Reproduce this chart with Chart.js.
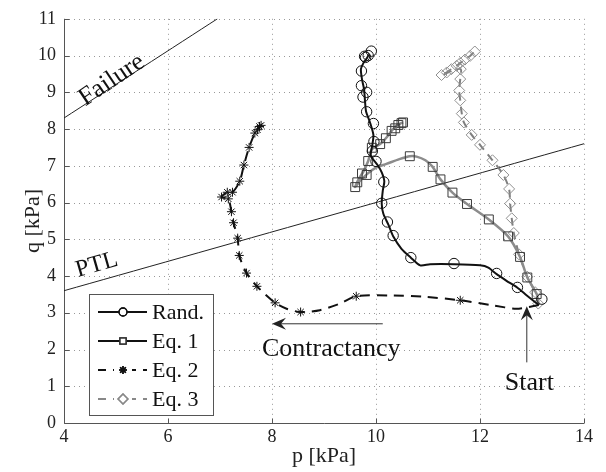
<!DOCTYPE html>
<html>
<head>
<meta charset="utf-8">
<script src="https://cdn.jsdelivr.net/npm/chart.js@4/dist/chart.umd.min.js"></script>
<style>
  html, body { margin: 0; padding: 0; background: #fff; }
  #wrap { width: 606px; height: 472px; }
</style>
</head>
<body>
<div id="wrap"><canvas id="pq"></canvas></div>
<script>
// axis ticks
const xTicks = [4, 6, 8, 10, 12, 14];
const yTicks = [0, 1, 2, 3, 4, 5, 6, 7, 8, 9, 10, 11];

// reference lines [p, q]
const failureLine = [[4, 8.3], [6.95, 11]];
const ptlLine = [[4, 3.6], [14, 7.6]];

// Rand. (solid black, circles)
const randPath = [[13.13,3.21],[12.90,3.47],[12.72,3.68],[12.51,3.87],[12.32,4.05],[12.16,4.23],[12.0,4.29],
  [11.5,4.32],[11.04,4.32],[10.85,4.29],[10.67,4.50],[10.49,4.74],[10.33,5.08],[10.24,5.39],[10.14,5.70],
  [10.11,5.97],[10.13,6.32],[10.16,6.58],[10.11,6.82],[10.03,7.02],[9.90,7.28],[9.93,7.57],[9.95,7.84],
  [9.88,8.20],[9.81,8.47],[9.79,8.73],[9.77,9.09],[9.73,9.36],[9.71,9.63],[9.76,9.80],[9.83,9.94],[9.86,10.03]];
const randMarks = [[13.19,3.37],[12.72,3.69],[12.32,4.07],[11.50,4.34],[10.67,4.50],[10.33,5.10],[10.22,5.47],
  [10.11,5.98],[10.15,6.56],[10.00,7.12],[9.93,7.40],[9.96,7.66],[9.95,8.15],[9.82,8.47],[9.75,8.87],[9.82,9.00],
  [9.72,9.18],[9.72,9.58],[9.78,9.98],[9.91,10.12],[9.85,10.0],[9.80,9.95]];

// Eq. 1 (solid grey, squares)
const eq1Path = [[13.13,3.21],[13.09,3.51],[12.91,3.96],[12.77,4.52],[12.54,5.08],[12.17,5.54],[11.75,5.96],
  [11.47,6.27],[11.24,6.63],[11.09,6.97],[10.95,7.15],[10.78,7.25],[10.65,7.26],[10.45,7.18],[10.2,7.05],
  [10.0,6.95],[9.85,6.8],[9.70,6.6],[9.60,6.42],[9.66,6.62],[9.76,6.85],[9.85,7.13],[9.92,7.45],[10.08,7.59],
  [10.19,7.75],[10.30,7.95],[10.40,8.10],[10.52,8.18]];
const eq1Marks = [[13.09,3.51],[12.91,3.96],[12.77,4.52],[12.54,5.08],[12.17,5.54],[11.75,5.96],[11.47,6.27],
  [11.24,6.63],[11.09,6.97],[10.65,7.26],[9.60,6.42],[9.64,6.55],[9.73,6.79],[9.82,6.75],[9.85,7.13],[9.92,7.49],
  [10.08,7.59],[10.19,7.75],[10.30,7.95],[10.37,8.02],[10.43,8.11],[10.49,8.16],[10.52,8.18]];

// Eq. 2 (dashed black, stars)
const eq2Path = [[13.13,3.21],[12.70,3.11],[12.26,3.20],[11.62,3.34],[10.97,3.43],[10.33,3.47],[9.62,3.45],
  [9.31,3.25],[8.92,3.07],[8.55,3.02],[8.28,3.11],[8.06,3.27],[7.71,3.72],[7.51,4.08],[7.37,4.56],[7.34,5.03],
  [7.26,5.45],[7.22,5.75],[7.16,6.10],[7.03,6.15],[7.14,6.28],[7.24,6.28],[7.38,6.58],[7.46,7.02],[7.56,7.50],
  [7.67,7.89],[7.76,8.07]];
const eq2Marks = [[11.62,3.34],[9.62,3.45],[8.55,3.02],[8.06,3.27],[7.71,3.72],[7.51,4.08],[7.37,4.56],
  [7.34,5.03],[7.26,5.45],[7.22,5.75],[7.16,6.10],[7.03,6.15],[7.14,6.28],[7.24,6.28],[7.38,6.58],[7.46,7.02],
  [7.56,7.50],[7.67,7.89],[7.72,7.98],[7.76,8.07],[7.79,8.10]];

// Eq. 3 (dashed grey, diamonds)
const eq3Path = [[13.13,3.21],[13.06,3.56],[12.91,3.98],[12.75,4.59],[12.65,5.17],[12.61,5.57],[12.58,5.97],
  [12.56,6.37],[12.45,6.75],[12.24,7.15],[12.0,7.57],[11.84,7.84],[11.69,8.18],[11.65,8.42],[11.62,8.78],
  [11.60,9.05],[11.62,9.36],[11.63,9.63],[11.45,9.58],[11.26,9.45],[11.36,9.54],[11.45,9.63],[11.55,9.72],
  [11.62,9.80],[11.71,9.89],[11.81,9.99],[11.90,10.11],[11.95,10.12]];
const eq3Marks = [[13.12,3.25],[13.06,3.56],[12.91,3.98],[12.75,4.59],[12.65,5.17],[12.61,5.57],[12.58,5.97],
  [12.56,6.37],[12.45,6.75],[12.24,7.15],[12.0,7.57],[11.84,7.84],[11.69,8.18],[11.65,8.42],[11.62,8.78],
  [11.60,9.05],[11.62,9.36],[11.63,9.63],[11.26,9.47],[11.36,9.54],[11.45,9.63],[11.55,9.72],[11.62,9.80],
  [11.71,9.89],[11.81,9.99],[11.90,10.11]];

const FONT = "'Liberation Serif', 'Times New Roman', Times, serif";
const xy = arr => arr.map(([x, y]) => ({ x: x, y: y }));

function pathSet(arr, color, width, dash, order) {
  return { data: xy(arr), showLine: true, borderColor: color, borderWidth: width, borderDash: dash,
    pointRadius: 0, pointHoverRadius: 0, tension: 0.25, fill: false, order: order };
}
function markSet(arr, color, style, r, order) {
  return { data: xy(arr), showLine: false, pointStyle: style, pointRadius: r, pointBorderColor: color,
    pointBackgroundColor: 'rgba(0,0,0,0)', pointBorderWidth: 1, pointHoverRadius: r, order: order };
}

const legendItems = [
  { label: 'Rand.', color: '#111', mark: '#111', style: 'circle', r: 4, dash: [] },
  { label: 'Eq. 1', color: '#111', mark: '#333', style: 'rect', r: 4.5, dash: [] },
  { label: 'Eq. 2', color: '#111', mark: '#111', style: 'star', r: 4, dash: [8, 7] },
  { label: 'Eq. 3', color: '#888', mark: '#888', style: 'rectRot', r: 5, dash: [8, 7] }
];

// grid, axis lines, inward ticks
const axesPlugin = {
  id: 'axes',
  beforeDatasetsDraw(chart) {
    const { ctx, chartArea: a, scales: { x, y } } = chart;
    ctx.save();
    ctx.strokeStyle = '#999';
    ctx.lineWidth = 1;
    ctx.setLineDash([1, 4]);
    xTicks.forEach(v => {
      const px = Math.round(x.getPixelForValue(v)) + 0.5;
      if (v === xTicks[0]) return;
      ctx.beginPath(); ctx.moveTo(px, a.top); ctx.lineTo(px, a.bottom); ctx.stroke();
    });
    yTicks.forEach(v => {
      const py = Math.round(y.getPixelForValue(v)) + 0.5;
      if (v === 0) return;
      ctx.beginPath(); ctx.moveTo(a.left, py); ctx.lineTo(a.right, py); ctx.stroke();
    });
    ctx.setLineDash([]);
    ctx.strokeStyle = '#555';
    const L = Math.round(a.left) + 0.5, B = Math.round(a.bottom) + 0.5;
    ctx.beginPath(); ctx.moveTo(L, a.top); ctx.lineTo(L, B); ctx.lineTo(a.right, B); ctx.stroke();
    xTicks.forEach(v => {
      const px = Math.round(x.getPixelForValue(v)) + 0.5;
      ctx.beginPath(); ctx.moveTo(px, B); ctx.lineTo(px, B - 5); ctx.stroke();
    });
    yTicks.forEach(v => {
      const py = Math.round(y.getPixelForValue(v)) + 0.5;
      ctx.beginPath(); ctx.moveTo(L, py); ctx.lineTo(L + 5, py); ctx.stroke();
    });
    ctx.restore();
  }
};

function arrowHead(ctx, tx, ty, ang) {
  // MATLAB-like notched arrow head pointing along ang
  const len = 14, half = 6, notch = 9;
  ctx.save();
  ctx.translate(tx, ty);
  ctx.rotate(ang);
  ctx.beginPath();
  ctx.moveTo(0, 0);
  ctx.lineTo(-len, -half);
  ctx.lineTo(-notch, 0);
  ctx.lineTo(-len, half);
  ctx.closePath();
  ctx.fill();
  ctx.restore();
}

const notesPlugin = {
  id: 'notes',
  afterDatasetsDraw(chart) {
    const { ctx, scales: { x, y } } = chart;
    ctx.save();
    ctx.fillStyle = '#111';
    ctx.strokeStyle = '#333';
    ctx.textAlign = 'center';
    ctx.textBaseline = 'middle';
    // rotated labels on lines
    ctx.save();
    ctx.translate(x.getPixelForValue(4.92), y.getPixelForValue(9.33));
    ctx.rotate(-34 * Math.PI / 180);
    ctx.font = '26px ' + FONT;
    ctx.fillText('Failure', 0, 0);
    ctx.restore();
    ctx.save();
    ctx.translate(x.getPixelForValue(4.63), y.getPixelForValue(4.30));
    ctx.rotate(-16 * Math.PI / 180);
    ctx.font = '24px ' + FONT;
    ctx.fillText('PTL', 0, 0);
    ctx.restore();
    // Contractancy arrow
    ctx.font = '26px ' + FONT;
    ctx.fillText('Contractancy', x.getPixelForValue(9.14), y.getPixelForValue(2.0));
    let ay = y.getPixelForValue(2.70);
    ctx.lineWidth = 1;
    ctx.beginPath(); ctx.moveTo(x.getPixelForValue(10.13), ay); ctx.lineTo(x.getPixelForValue(8.1), ay); ctx.stroke();
    ctx.fillStyle = '#222';
    arrowHead(ctx, x.getPixelForValue(8.0), ay, Math.PI);
    // Start arrow
    ctx.fillStyle = '#111';
    ctx.fillText('Start', x.getPixelForValue(12.95), y.getPixelForValue(1.08));
    let sx = x.getPixelForValue(12.9);
    ctx.beginPath(); ctx.moveTo(sx, y.getPixelForValue(1.65)); ctx.lineTo(sx, y.getPixelForValue(3.0)); ctx.stroke();
    ctx.fillStyle = '#222';
    arrowHead(ctx, sx, y.getPixelForValue(3.18), -Math.PI / 2);
    ctx.restore();

    // legend box
    const bx = 89, by = 294, bw = 124, bh = 121;
    ctx.save();
    ctx.fillStyle = '#fff';
    ctx.fillRect(bx, by, bw, bh);
    ctx.strokeStyle = '#555';
    ctx.lineWidth = 1;
    ctx.strokeRect(bx + 0.5, by + 0.5, bw, bh);
    ctx.font = '22px ' + FONT;
    ctx.textAlign = 'left';
    ctx.textBaseline = 'middle';
    legendItems.forEach((it, i) => {
      const yy = by + 18 + i * 29;
      ctx.strokeStyle = it.color;
      ctx.lineWidth = 2;
      ctx.setLineDash(it.dash);
      ctx.beginPath(); ctx.moveTo(98, yy); ctx.lineTo(147, yy); ctx.stroke();
      ctx.setLineDash([]);
      ctx.fillStyle = '#fff';
      if (it.dash.length) { ctx.fillRect(114, yy - 4, 18, 8); }
      ctx.lineWidth = it.style === 'star' ? 1.5 : 1.3;
      ctx.strokeStyle = it.mark;
      Chart.helpers.drawPoint(ctx, { pointStyle: it.style, radius: it.r, rotation: 0, borderWidth: 1 }, 123, yy);
      ctx.stroke();
      ctx.fillStyle = '#111';
      ctx.fillText(it.label, 152, yy + 1);
    });
    ctx.restore();
  }
};

new Chart(document.getElementById('pq'), {
  type: 'scatter',
  data: {
    datasets: [
      pathSet(failureLine, '#222', 1, [], 9),
      pathSet(ptlLine, '#222', 1, [], 9),
      pathSet(eq3Path, '#7f7f7f', 2, [8, 6], 8),
      markSet(eq3Marks, '#8f8f8f', 'rectRot', 5.5, 7),
      pathSet(eq1Path, '#8c8c8c', 2.5, [], 6),
      markSet(eq1Marks, '#3a3a3a', 'rect', 6.3, 5),
      pathSet(eq2Path, '#111', 2, [10, 7], 4),
      markSet(eq2Marks, '#111', 'star', 4.5, 3),
      pathSet(randPath, '#111', 2, [], 2),
      markSet(randMarks, '#111', 'circle', 5.2, 1)
    ]
  },
  options: {
    responsive: true,
    maintainAspectRatio: false,
    animation: false,
    layout: { padding: { top: 12, right: 22, left: 20, bottom: 0 } },
    plugins: { legend: { display: false }, tooltip: { enabled: false } },
    scales: {
      x: {
        type: 'linear', min: 4, max: 14,
        afterBuildTicks: s => { s.ticks = xTicks.map(v => ({ value: v })); },
        afterFit: s => { s.height = 49; },
        grid: { display: false, drawTicks: false }, border: { display: false },
        ticks: { color: '#222', font: { family: FONT, size: 18 }, padding: 3, maxRotation: 0 },
        title: { display: true, text: 'p [kPa]', color: '#222', font: { family: FONT, size: 22 }, padding: { top: 0, bottom: 3 } }
      },
      y: {
        type: 'linear', min: 0, max: 11,
        afterBuildTicks: s => { s.ticks = yTicks.map(v => ({ value: v })); },
        afterFit: s => { s.width = 44; },
        grid: { display: false, drawTicks: false }, border: { display: false },
        ticks: { color: '#222', font: { family: FONT, size: 18 }, padding: 8 },
        title: { display: true, text: 'q [kPa]', color: '#222', font: { family: FONT, size: 22 }, padding: { top: 0, bottom: 0 } }
      }
    }
  },
  plugins: [axesPlugin, notesPlugin]
});
</script>
</body>
</html>
